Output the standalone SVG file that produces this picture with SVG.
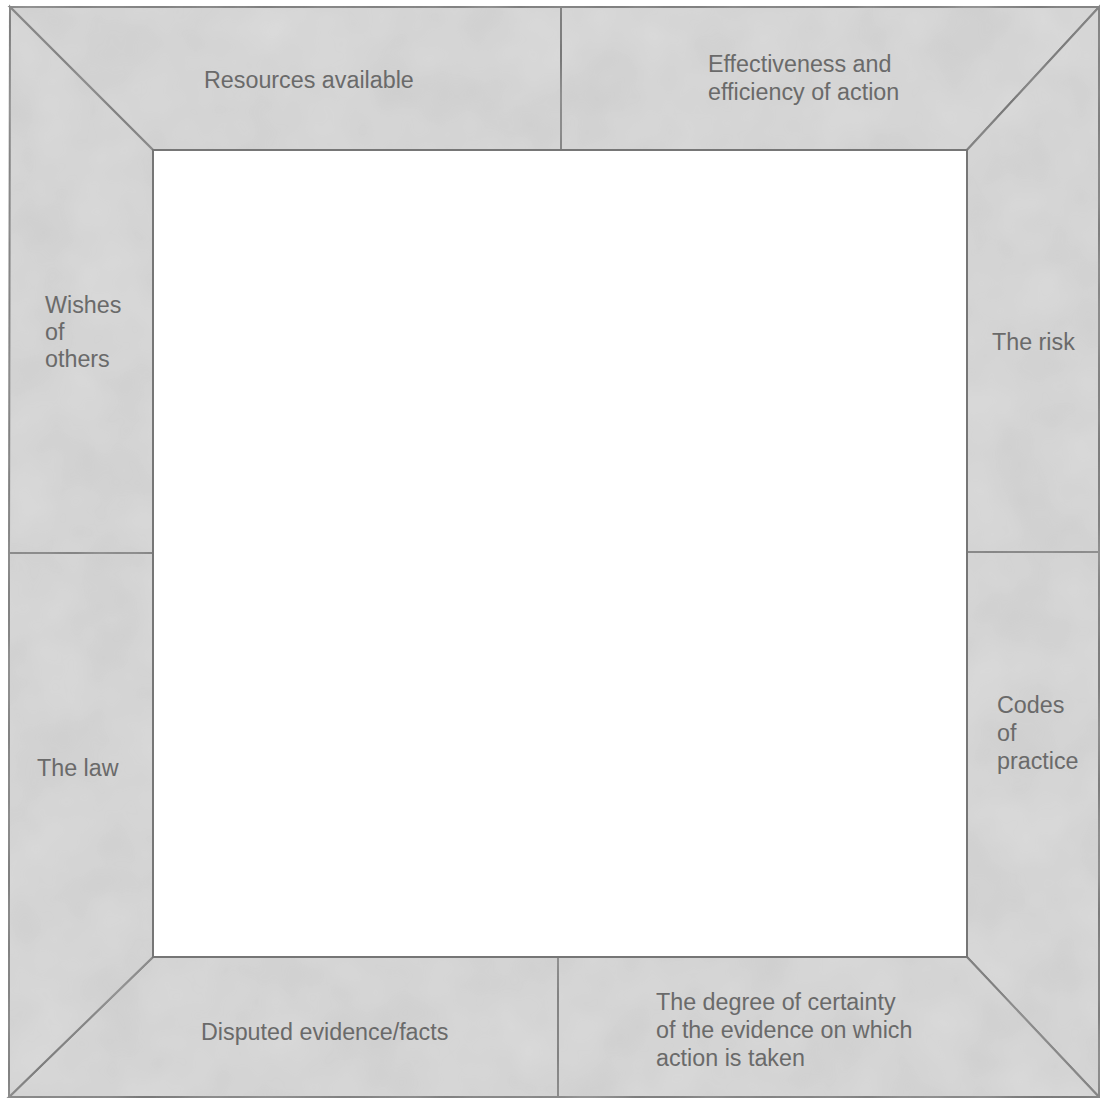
<svg xmlns="http://www.w3.org/2000/svg" width="1100" height="1098" viewBox="0 0 1100 1098">
  <defs>
    <filter id="mottle" x="0" y="0" width="100%" height="100%" filterUnits="userSpaceOnUse">
      <feTurbulence type="fractalNoise" baseFrequency="0.014" numOctaves="3" seed="7" result="n"/>
      <feColorMatrix in="n" type="matrix" values="0 0 0 0 0.5  0 0 0 0 0.5  0 0 0 0 0.5  0 0 0 0.5 -0.05" result="c"/>
      <feComposite in="c" in2="SourceGraphic" operator="in" result="t"/>
      <feMerge><feMergeNode in="SourceGraphic"/><feMergeNode in="t"/></feMerge>
    </filter>
  </defs>
  <style>
    .panel { fill: #dadada; stroke: #767676; stroke-width: 2; stroke-linejoin: miter; filter: url(#mottle); }
    .lbl { font-family: "Liberation Sans", Arial, sans-serif; font-size: 23.3px; fill: #6a6a6a; }
    .inner { fill: #ffffff; stroke: #767676; stroke-width: 2; }
  </style>
  <rect width="1100" height="1098" fill="#ffffff"/>
  <g id="resources">
    <polygon class="panel" points="10,7 561,7 561,150 153,150"/>
    <text class="lbl" x="204" y="88">Resources available</text>
  </g>
  <g id="effectiveness">
    <polygon class="panel" points="561,7 1099,7 967,150 561,150"/>
    <text class="lbl" x="708" y="72">Effectiveness and</text>
    <text class="lbl" x="708" y="100">efficiency of action</text>
  </g>
  <g id="risk">
    <polygon class="panel" points="1099,7 1099,552 967,552 967,150"/>
    <text class="lbl" x="992" y="350">The risk</text>
  </g>
  <g id="codes">
    <polygon class="panel" points="1099,552 1099,1097 967,957 967,552"/>
    <text class="lbl" x="997" y="713">Codes</text>
    <text class="lbl" x="997" y="741">of</text>
    <text class="lbl" x="997" y="769">practice</text>
  </g>
  <g id="certainty">
    <polygon class="panel" points="1099,1097 558,1097 558,957 967,957"/>
    <text class="lbl" x="656" y="1010">The degree of certainty</text>
    <text class="lbl" x="656" y="1038">of the evidence on which</text>
    <text class="lbl" x="656" y="1066">action is taken</text>
  </g>
  <g id="disputed">
    <polygon class="panel" points="558,1097 9,1097 153,957 558,957"/>
    <text class="lbl" x="201" y="1040">Disputed evidence/facts</text>
  </g>
  <g id="law">
    <polygon class="panel" points="9,1097 9,553 153,553 153,957"/>
    <text class="lbl" x="37" y="776">The law</text>
  </g>
  <g id="wishes">
    <polygon class="panel" points="9,553 10,7 153,150 153,553"/>
    <text class="lbl" x="45" y="313">Wishes</text>
    <text class="lbl" x="45" y="340">of</text>
    <text class="lbl" x="45" y="367">others</text>
  </g>
  <g id="centre">
    <rect class="inner" x="153" y="150" width="814" height="807"/>
  </g>
  <g id="connectors"/>
</svg>
